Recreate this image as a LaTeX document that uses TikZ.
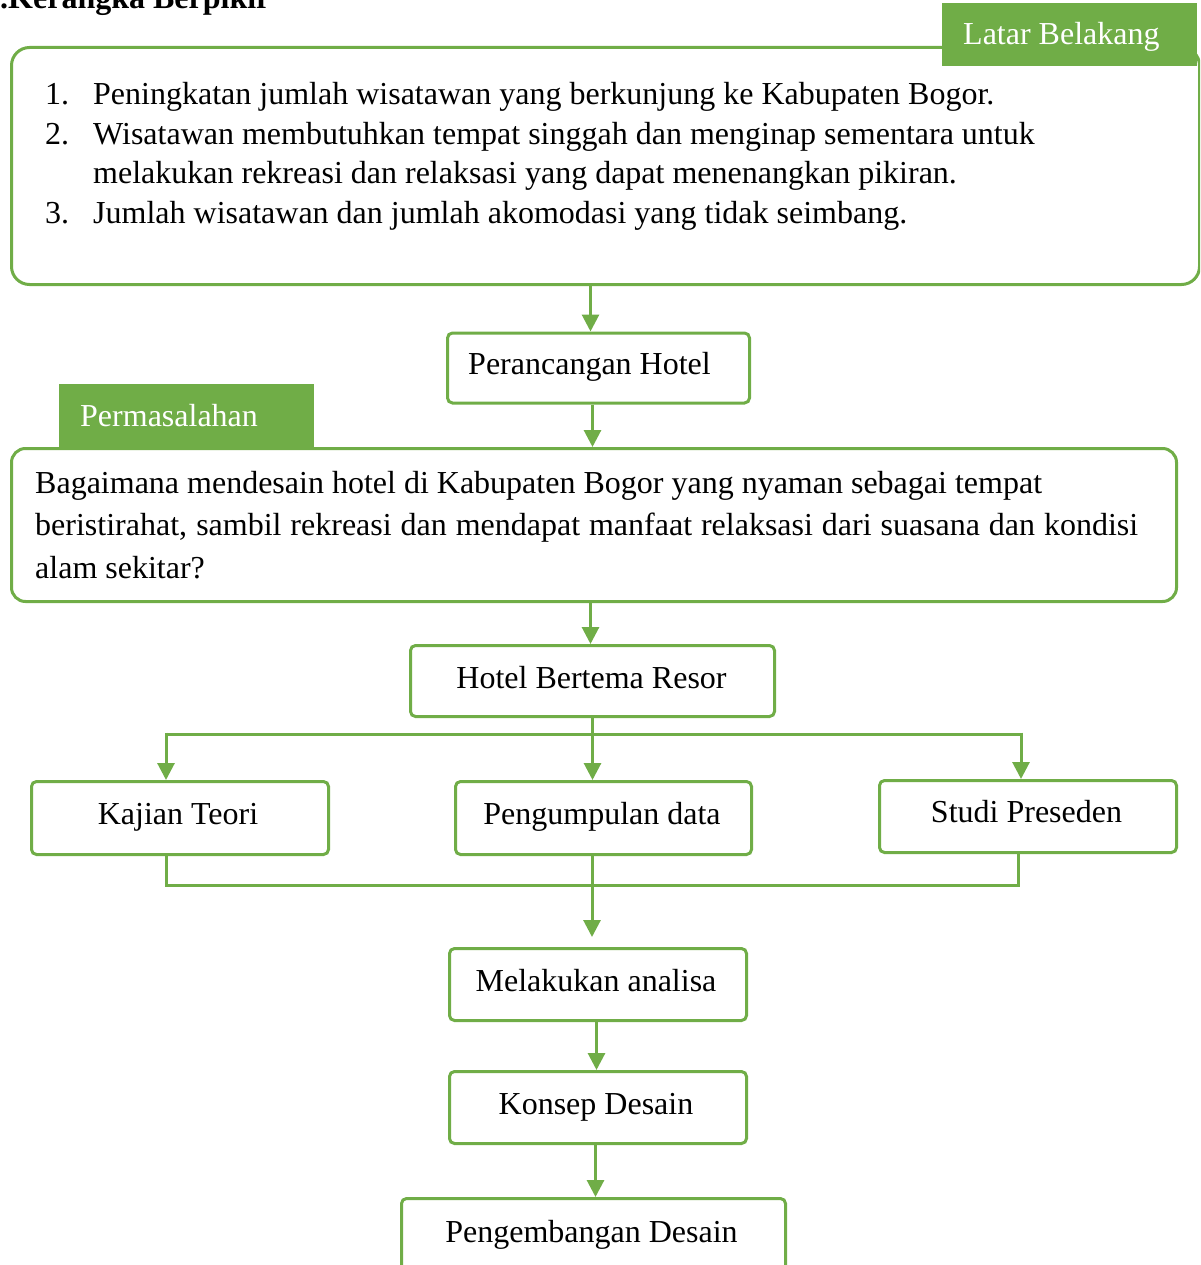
\documentclass[tikz,border=0pt]{standalone}
\usepackage{fontspec}
\setmainfont{Liberation Serif}
\usetikzlibrary{arrows.meta,calc}
\definecolor{gr}{HTML}{70AD47}
\tikzset{
  box/.style={draw=gr, line width=3pt, rounded corners=5pt, fill=white, inner sep=0pt, anchor=north west},
  tag/.style={fill=gr, inner sep=0pt, anchor=north west},
  txt/.style={inner sep=0pt, anchor=base west, font=\fontsize{32}{40}\selectfont},
  ctxt/.style={inner sep=0pt, anchor=base, font=\fontsize{32}{40}\selectfont},
  conn/.style={draw=gr, line width=3pt},
  arr/.style={draw=gr, line width=3pt, -{Triangle[width=17pt,length=17pt]}}
}
\begin{document}
\begin{tikzpicture}[x=1pt,y=-1pt]
\useasboundingbox (0,0) rectangle (1200,1265);
\clip (0,0) rectangle (1200,1265);
% title
\node[txt, font=\fontsize{32}{40}\selectfont\bfseries] (title) at (0,9) {.Kerangka Berpikir};
% boxes
\node[box, rounded corners=18pt, minimum width=1188, minimum height=237] (latar) at (10,46) {};
\node[box, minimum width=302, minimum height=70] (perancangan) at (446,331.5) {};
\node[box, rounded corners=14pt, minimum width=1165, minimum height=153] (masalah) at (10,447) {};
\node[box, minimum width=364, minimum height=71] (hotel) at (409,644) {};
\node[box, minimum width=297, minimum height=73] (kajian) at (30,780) {};
\node[box, minimum width=296, minimum height=73] (pengumpulan) at (454,780) {};
\node[box, minimum width=297, minimum height=72] (studi) at (878,779) {};
\node[box, minimum width=297, minimum height=72] (analisa) at (448,947) {};
\node[box, minimum width=297, minimum height=72] (konsep) at (448,1070) {};
\node[box, minimum width=384, minimum height=120] (pengembangan) at (400,1197) {};
% tags
\node[tag, minimum width=255, minimum height=63] (latartag) at (942,3) {};
\node[txt, text=white] (latartxt) at (963,45) {Latar Belakang};
\node[tag, minimum width=255, minimum height=63] (masalahtag) at (59,384) {};
\node[txt, text=white] (masalahtxt) at (80,426) {Permasalahan};
% list text
\node[txt] (n1) at (45,105) {1.};
\node[txt] (t1) at (93,105) {Peningkatan jumlah wisatawan yang berkunjung ke Kabupaten Bogor.};
\node[txt] (n2) at (45,145) {2.};
\node[txt] (t2) at (93,145) {Wisatawan membutuhkan tempat singgah dan menginap sementara untuk};
\node[txt] (t2b) at (93,184) {melakukan rekreasi dan relaksasi yang dapat menenangkan pikiran.};
\node[txt] (n3) at (45,224) {3.};
\node[txt] (t3) at (93,224) {Jumlah wisatawan dan jumlah akomodasi yang tidak seimbang.};
% problem text
\node[txt] (m1) at (35,493) {Bagaimana mendesain hotel di Kabupaten Bogor yang nyaman sebagai tempat};
\node[txt] (m2) at (35,535) {\makebox[1103pt][s]{beristirahat, sambil rekreasi dan mendapat manfaat relaksasi dari suasana dan kondisi}};
\node[txt] (m3) at (35,578) {alam sekitar?};
% box labels
\node[ctxt] (perancangantxt) at (589.5,374) {Perancangan Hotel};
\node[ctxt] (hoteltxt) at (591.5,688) {Hotel Bertema Resor};
\node[ctxt] (kajiantxt) at (178,824) {Kajian Teori};
\node[ctxt] (pengumpulantxt) at (602,824) {Pengumpulan data};
\node[ctxt] (studitxt) at (1026.5,822) {Studi Preseden};
\node[ctxt] (analisatxt) at (596,991) {Melakukan analisa};
\node[ctxt] (konseptxt) at (596,1114) {Konsep Desain};
\node[ctxt] (pengembangantxt) at (591.5,1242) {Pengembangan Desain};
% connectors
\draw[arr] ([xshift=-8pt]perancangan.north |- latar.south) -- ([xshift=-8pt]perancangan.north);
\draw[arr] ([xshift=-6pt]perancangan.south) -- ([xshift=-6pt]perancangan.south |- masalah.north);
\draw[arr] ([xshift=-2pt]hotel.north |- masalah.south) -- ([xshift=-2pt]hotel.north);
\coordinate (bl) at (166,734);
\coordinate (br) at (1021,734);
\draw[conn] (bl) -- (br);
\draw[arr] ([yshift=1.5pt]bl) -- (kajian.north -| bl);
\draw[arr] ([yshift=1.5pt]br) -- (studi.north -| br);
\draw[arr] (hotel.south) -- (hotel.south |- pengumpulan.north);
\coordinate (jl) at (166,885);
\coordinate (jr) at (1018,885);
\coordinate (jm) at (592,885);
\draw[conn] (kajian.south -| jl) -- (jl) -- (jr) -- (studi.south -| jr);
\draw[arr] (pengumpulan.south -| jm) -- ([yshift=10pt]analisa.north -| jm);
\draw[arr] ([xshift=-1.5pt]analisa.south) -- ([xshift=-1.5pt]konsep.north);
\draw[arr] ([xshift=-2.5pt]konsep.south) -- ([xshift=-2.5pt]konsep.south |- pengembangan.north);
\end{tikzpicture}
\end{document}
